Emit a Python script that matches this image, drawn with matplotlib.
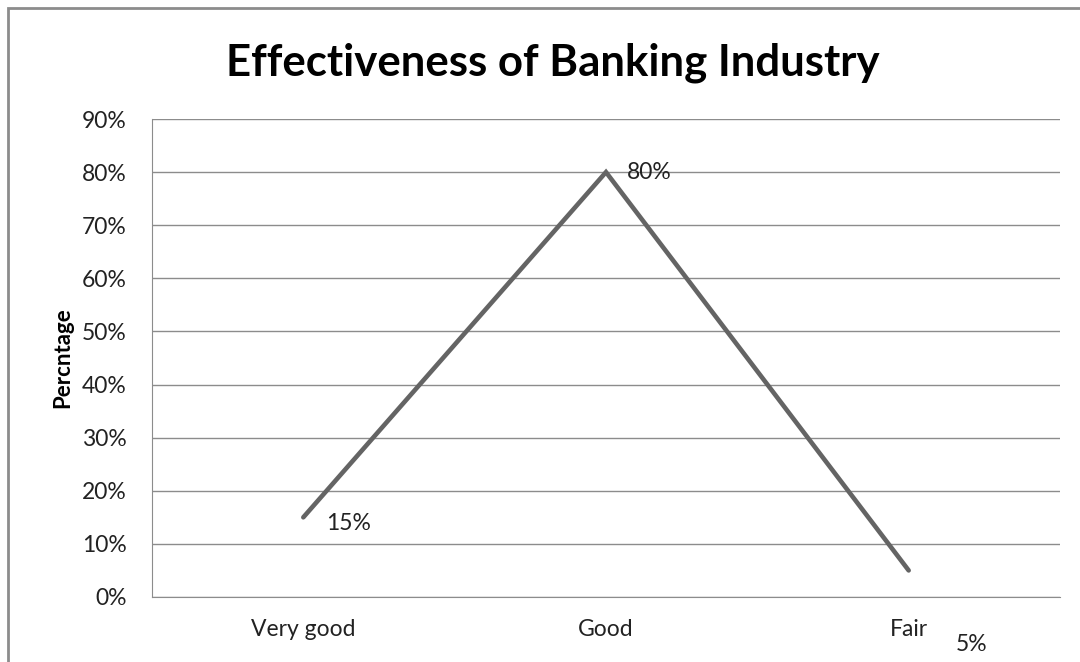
import matplotlib
matplotlib.use('Agg')
import matplotlib.pyplot as plt
import matplotlib.patches as mpatches
from matplotlib.ticker import PercentFormatter

plt.rcParams['font.family'] = ['Lato', 'DejaVu Sans']

categories = ['Very good', 'Good', 'Fair']
values = [15, 80, 5]
labels = ['15%', '80%', '5%']
label_offsets = [(23, -6), (21, 0), (47, -74)]   # pixels from the point

GRID = '#8c8c8c'
LINE = '#646464'
TXT = '#222222'

fig = plt.figure(figsize=(10.8, 6.62), dpi=100)
ax = fig.add_axes([0.1407, 0.0982, 0.8408, 0.722])

x = list(range(len(categories)))
ax.plot(x, values, color=LINE, linewidth=3.3, solid_capstyle='round',
        solid_joinstyle='miter', zorder=3)

for xi, v, lab, (dx, dy) in zip(x, values, labels, label_offsets):
    ax.annotate(lab, (xi, v), xytext=(dx, dy), textcoords='offset pixels',
                ha='left', va='center', fontsize=16.5, color=TXT)

ax.set_xlim(-0.5, len(categories) - 0.5)
ax.set_ylim(0, 90)
ax.set_yticks(range(0, 91, 10))
ax.yaxis.set_major_formatter(PercentFormatter(decimals=0))
ax.set_xticks(x)
ax.set_xticklabels(categories)

ax.grid(axis='y', color=GRID, linewidth=1)
ax.set_axisbelow(True)
for s in ['top', 'right']:
    ax.spines[s].set_visible(False)
ax.spines['left'].set_color(GRID)
ax.spines['bottom'].set_color(GRID)
ax.tick_params(axis='x', length=0, pad=16, labelsize=16.5, labelcolor=TXT)
ax.tick_params(axis='y', length=0, pad=18, labelsize=16.5, labelcolor=TXT)

ax.set_ylabel('Percntage', fontsize=16, fontweight='bold', labelpad=6)
fig.text(0.512, 0.905, 'Effectiveness of Banking Industry', ha='center',
         va='center', fontsize=31.5, fontweight='bold')

# chart-area border (right/bottom lie outside the picture)
fig.patches.append(mpatches.Rectangle((8 / 1080, -0.05), 1.2, 1 - 8 / 662 + 0.05,
                                      transform=fig.transFigure, fill=False,
                                      edgecolor=GRID, linewidth=2))

fig.savefig('out.png', dpi=100)
